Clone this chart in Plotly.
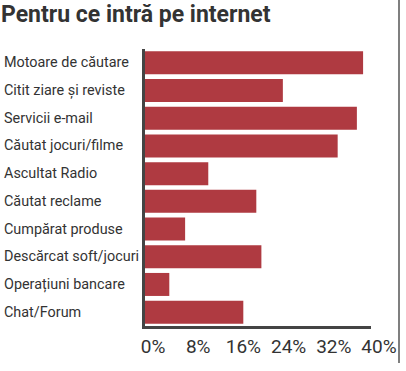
import plotly.graph_objects as go

title_text = "Pentru ce intră pe internet"
categories = [
    "Motoare de căutare",
    "Citit ziare și reviste",
    "Servicii e-mail",
    "Căutat jocuri/filme",
    "Ascultat Radio",
    "Căutat reclame",
    "Cumpărat produse",
    "Descărcat soft/jocuri",
    "Operațiuni bancare",
    "Chat/Forum",
]
values = [38.6, 24.4, 37.5, 34.1, 11.2, 19.7, 7.1, 20.6, 4.3, 17.4]
tick_values = [0, 8, 16, 24, 32, 40]
tick_labels = ["0%", "8%", "16%", "24%", "32%", "40%"]

FONT = "Roboto, Liberation Sans, sans-serif"
TXT = "#333333"
BAR = "#AF3A41"
AX = "#444444"

W, H = 406, 371
L, R, T, B = 145, 35, 49, 45
pw, ph = W - L - R, H - T - B

fig = go.Figure()
fig.add_trace(go.Bar(
    x=values, y=categories, orientation="h",
    marker=dict(color=BAR, line=dict(width=0)),
    width=0.83, hoverinfo="skip",
))

for c in categories:
    fig.add_annotation(
        x=0, xref="paper", xanchor="left", xshift=-(L - 2),
        y=c, yref="y", yanchor="middle", text=c, showarrow=False,
        font=dict(family=FONT, size=14.4, color=TXT),
    )

fig.add_shape(type="line", xref="paper", yref="paper",
              x0=(399 - L) / pw, x1=(399 - L) / pw,
              y0=1 + T / ph, y1=-(363 - T - ph) / ph,
              line=dict(color="#555555", width=1.5))

fig.update_layout(
    width=W, height=H,
    margin=dict(l=L, r=R, t=T, b=B, pad=0, autoexpand=False),
    paper_bgcolor="white", plot_bgcolor="white",
    showlegend=False,
    title=dict(text="<b>" + title_text + "</b>", xref="container", yref="container",
               x=1 / W, xanchor="left", y=1 - 6 / H, yanchor="top",
               font=dict(family=FONT, size=23, color=TXT)),
    xaxis=dict(range=[0, 40], tickvals=tick_values, ticktext=tick_labels,
               showgrid=False, zeroline=False, showline=True, linecolor=AX, linewidth=3,
               ticks="", tickangle=0, ticklabelshift=8, ticklabelstandoff=1,
               automargin=False,
               tickfont=dict(family=FONT, size=19, color=TXT)),
    yaxis=dict(categoryorder="array", categoryarray=categories,
               range=[9.5, -0.5], showticklabels=False, showgrid=False, zeroline=False,
               showline=True, linecolor=AX, linewidth=3, ticks="", automargin=False),
    bargap=0.17,
)

fig.write_html("out.html", config={"displayModeBar": False},
               post_script="document.body.style.margin='0px';")
